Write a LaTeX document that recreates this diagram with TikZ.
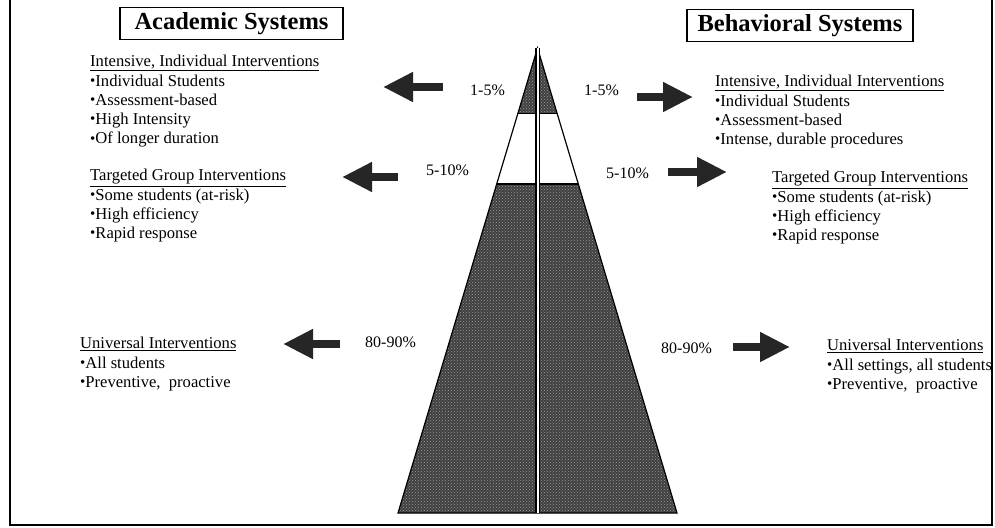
\documentclass[tikz,border=0pt]{standalone}
\usepackage{fontspec}
\setmainfont{Liberation Serif}
\usetikzlibrary{positioning,calc,arrows.meta,patterns}

\tikzset{
  txt/.style={anchor=north west, align=left, inner sep=0pt, font=\fontsize{16.6}{19.3}\selectfont},
  pct/.style={anchor=base west, inner sep=0pt, font=\fontsize{16}{18}\selectfont},
  ttl/.style={draw, line width=1.2pt, inner ysep=5pt, text height=17pt, text depth=5pt, font=\bfseries\fontsize{24.5}{28}\selectfont},
  blk/.style={line width=8pt, black!85, -{Triangle[length=30pt,width=28pt]}},
  dark/.style={fill=black!75, postaction={pattern=crosshatch dots, pattern color=black!40}},
}
\newcommand{\bul}{\raisebox{0.1ex}{\scalebox{0.9}{\textbullet}}}

\begin{document}
\begin{tikzpicture}[x=1pt,y=-1pt]
  \useasboundingbox (0,0) rectangle (995,527);
  \draw[line width=2pt] (10,-5) -- (10,525) -- (992,525) -- (992,-5);

  % titles
  \node[ttl, minimum width=223pt] (acad) at (231.5,23.5) {Academic Systems};
  \node[ttl, minimum width=226pt] (behav) at (800,25.5) {Behavioral Systems};

  % pyramid
  \coordinate (apex) at (537.5,48);
  \coordinate (bl) at (398,513);
  \coordinate (br) at (677,513);
  \coordinate (t1) at ($(apex)!0.14!(bl)$);
  \coordinate (t2) at ($(apex)!0.14!(br)$);
  \coordinate (m1) at ($(apex)!0.2925!(bl)$);
  \coordinate (m2) at ($(apex)!0.2925!(br)$);
  \fill[dark] (apex) -- (t1) -- (t2) -- cycle;
  \fill[dark] (m1) -- (bl) -- (br) -- (m2) -- cycle;
  \draw[line width=1.2pt] (t1) -- (t2) (m1) -- (m2);
  \draw[line width=1.2pt, line join=miter] (apex) -- (bl) -- (br) -- cycle;
  \draw[line width=1.1pt, double=white, double distance=2pt] (apex) -- ($(bl)!0.5!(br)$);

  % percentages
  \node[pct] (pL1) at (470,95) {1-5\%};
  \node[pct] (pR1) at (584,95) {1-5\%};
  \node[pct] (pL2) at (426,175) {5-10\%};
  \node[pct] (pR2) at (606,178) {5-10\%};
  \node[pct] (pL3) at (365,347) {80-90\%};
  \node[pct] (pR3) at (661,353) {80-90\%};

  % arrows
  \coordinate (aL1) at (443,87);   \coordinate (aL1e) at (383,87);
  \coordinate (aL2) at (398,177);  \coordinate (aL2e) at (342,177);
  \coordinate (aL3) at (340,344);  \coordinate (aL3e) at (283,344);
  \coordinate (aR1) at (637,97);   \coordinate (aR1e) at (693,97);
  \coordinate (aR2) at (668,172);  \coordinate (aR2e) at (727,172);
  \coordinate (aR3) at (733,347);  \coordinate (aR3e) at (790,347);
  \foreach \a in {L1,L2,L3,R1,R2,R3}
    \draw[blk] (a\a) -- (a\a e);

  % academic side
  \node[txt] (intA) at (90,55) {\underline{Intensive, Individual Interventions}\\
    \bul Individual Students\\ \bul Assessment-based\\ \bul High Intensity\\ \bul Of longer duration};
  \node[txt] (tgtA) at (90,169) {\underline{Targeted Group Interventions}\\
    \bul Some students (at-risk)\\ \bul High efficiency\\ \bul Rapid response};
  \node[txt] (uniA) at (80,337) {\underline{Universal Interventions}\\
    \bul All students\\ \bul Preventive,\ \ proactive};

  % behavioral side
  \node[txt] (intB) at (715,75) {\underline{Intensive, Individual Interventions}\\
    \bul Individual Students\\ \bul Assessment-based\\ \bul Intense, durable procedures};
  \node[txt] (tgtB) at (772,171) {\underline{Targeted Group Interventions}\\
    \bul Some students (at-risk)\\ \bul High efficiency\\ \bul Rapid response};
  \node[txt] (uniB) at (827,339) {\underline{Universal Interventions}\\
    \bul All settings, all students\\ \bul Preventive,\ \ proactive};
\end{tikzpicture}
\end{document}
